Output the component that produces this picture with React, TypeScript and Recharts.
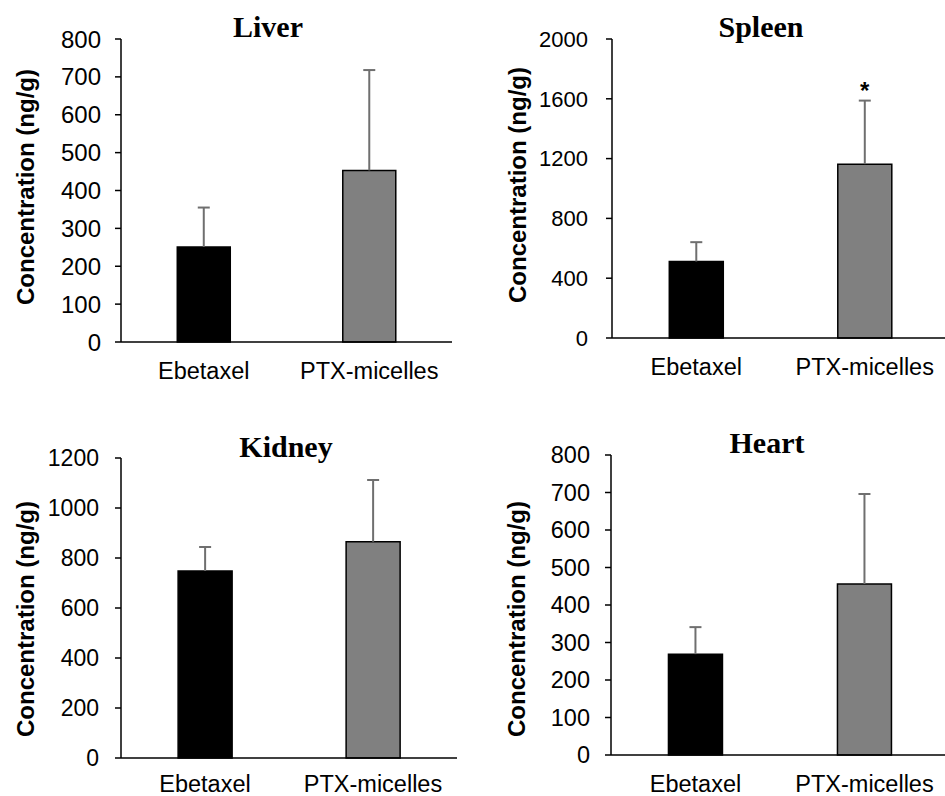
import { Bar, BarChart, Cell, LabelList, XAxis, YAxis } from "recharts";

const categories = ["Ebetaxel", "PTX-micelles"];
const barColors = ["#000000", "#808080"];

const liverMean = [251, 453];
const liverSd = [104, 265];
const liverTicks = [0, 100, 200, 300, 400, 500, 600, 700, 800];

const spleenMean = [512, 1163];
const spleenSd = [129, 425];
const spleenMarks = ["", "*"];
const spleenTicks = [0, 400, 800, 1200, 1600, 2000];

const kidneyMean = [748, 865];
const kidneySd = [96, 247];
const kidneyTicks = [0, 200, 400, 600, 800, 1000, 1200];

const heartMean = [269, 456];
const heartSd = [72, 240];
const heartTicks = [0, 100, 200, 300, 400, 500, 600, 700, 800];

const SANS = "'Liberation Sans', Arial, sans-serif";
const SERIF = "'Liberation Serif', 'Times New Roman', serif";
const WHISKER = "#6f6f6f";

function buildRows(mean: number[], sd: number[], marks?: string[]) {
  return categories.map((name, i) => ({
    name,
    mean: mean[i],
    sd: sd[i],
    mark: marks ? marks[i] : "",
  }));
}

// upper half of the error bar, drawn on a stacked segment sitting on the mean
function ErrorWhisker(props: any) {
  const { x, y, width, height } = props;
  if (height == null || width == null) return null;
  const cx = x + width / 2;
  return (
    <g>
      <line x1={cx} x2={cx} y1={y} y2={y + height} stroke={WHISKER} strokeWidth={2} />
      <line x1={cx - 6} x2={cx + 6} y1={y} y2={y} stroke={WHISKER} strokeWidth={2} />
    </g>
  );
}

function YTitle(props: any) {
  const { titleX, titleY } = props;
  return (
    <text
      x={titleX}
      y={titleY}
      transform={`rotate(-90, ${titleX}, ${titleY})`}
      textAnchor="middle"
      dominantBaseline="central"
      fontFamily={SANS}
      fontWeight="bold"
      fontSize={24}
      fill="#000"
    >
      Concentration (ng/g)
    </text>
  );
}

type PanelProps = {
  title: string;
  rows: ReturnType<typeof buildRows>;
  ticks: number[];
  left: number;
  top: number;
  width: number;
  height: number;
  axisWidth: number;
  margin: { top: number; right: number; bottom: number; left: number };
  xAxisHeight: number;
  xTickGap: number;
  yTickFont: number;
  yTickGap: number;
  titleCenter: number;
  titleTop: number;
  labelX: number;
  labelY: number;
};

function OrganPanel(p: PanelProps) {
  const max = p.ticks[p.ticks.length - 1];
  return (
    <>
      <div
        style={{
          position: "absolute",
          left: p.titleCenter - 100,
          top: p.titleTop,
          width: 200,
          textAlign: "center",
          fontFamily: SERIF,
          fontWeight: "bold",
          fontSize: 30,
          lineHeight: "30px",
          color: "#000",
        }}
      >
        {p.title}
      </div>
      <div style={{ position: "absolute", left: p.left, top: p.top }}>
        <BarChart
          width={p.width}
          height={p.height}
          data={p.rows}
          margin={p.margin}
          barCategoryGap="34%"
        >
          <XAxis
            dataKey="name"
            height={p.xAxisHeight}
            axisLine={{ stroke: "#000", strokeWidth: 1.5 }}
            tickLine={false}
            tickSize={6}
            tickMargin={p.xTickGap}
            tick={{ fontSize: 23.5, fill: "#000", fontFamily: SANS }}
            interval={0}
          />
          <YAxis
            width={p.axisWidth}
            domain={[0, max]}
            ticks={p.ticks}
            interval={0}
            axisLine={{ stroke: "#000", strokeWidth: 1.5 }}
            tickLine={{ stroke: "#000", strokeWidth: 1.5 }}
            tickSize={6}
            tickMargin={p.yTickGap}
            tick={{ fontSize: p.yTickFont, fill: "#000", fontFamily: SANS }}
            label={<YTitle titleX={p.labelX} titleY={p.labelY} />}
          />
          <Bar dataKey="mean" stackId="s" stroke="#000" strokeWidth={1.5} isAnimationActive={false}>
            {p.rows.map((row, i) => (
              <Cell key={row.name} fill={barColors[i]} />
            ))}
          </Bar>
          <Bar dataKey="sd" stackId="s" shape={ErrorWhisker} isAnimationActive={false}>
            <LabelList
              dataKey="mark"
              position="top"
              offset={2}
              fill="#000"
              fontSize={24}
              fontWeight="bold"
              fontFamily={SANS}
            />
          </Bar>
        </BarChart>
      </div>
    </>
  );
}

export default function App() {
  return (
    <div
      style={{
        position: "absolute",
        left: 0,
        top: 0,
        width: 945,
        height: 796,
        overflow: "hidden",
        background: "#fff",
      }}
    >
      <OrganPanel
        title="Liver"
        rows={buildRows(liverMean, liverSd)}
        ticks={liverTicks}
        left={0}
        top={0}
        width={472}
        height={400}
        axisWidth={121}
        margin={{ top: 39, right: 20, bottom: 18, left: 0 }}
        xAxisHeight={40}
        xTickGap={14}
        yTickFont={24}
        yTickGap={14}
        titleCenter={268}
        titleTop={12}
        labelX={25}
        labelY={187}
      />
      <OrganPanel
        title="Spleen"
        rows={buildRows(spleenMean, spleenSd, spleenMarks)}
        ticks={spleenTicks}
        left={472}
        top={0}
        width={480}
        height={400}
        axisWidth={140}
        margin={{ top: 39, right: 3, bottom: 22, left: 0 }}
        xAxisHeight={40}
        xTickGap={14}
        yTickFont={22}
        yTickGap={18}
        titleCenter={761}
        titleTop={12}
        labelX={45}
        labelY={185}
      />
      <OrganPanel
        title="Kidney"
        rows={buildRows(kidneyMean, kidneySd)}
        ticks={kidneyTicks}
        left={0}
        top={410}
        width={472}
        height={386}
        axisWidth={121}
        margin={{ top: 48, right: 15, bottom: 0, left: 0 }}
        xAxisHeight={38}
        xTickGap={11}
        yTickFont={23}
        yTickGap={16}
        titleCenter={286}
        titleTop={432}
        labelX={25}
        labelY={209}
      />
      <OrganPanel
        title="Heart"
        rows={buildRows(heartMean, heartSd)}
        ticks={heartTicks}
        left={472}
        top={410}
        width={480}
        height={386}
        axisWidth={139}
        margin={{ top: 45, right: 3, bottom: 1, left: 0 }}
        xAxisHeight={40}
        xTickGap={14}
        yTickFont={23.5}
        yTickGap={15}
        titleCenter={767}
        titleTop={428}
        labelX={44}
        labelY={209}
      />
    </div>
  );
}
